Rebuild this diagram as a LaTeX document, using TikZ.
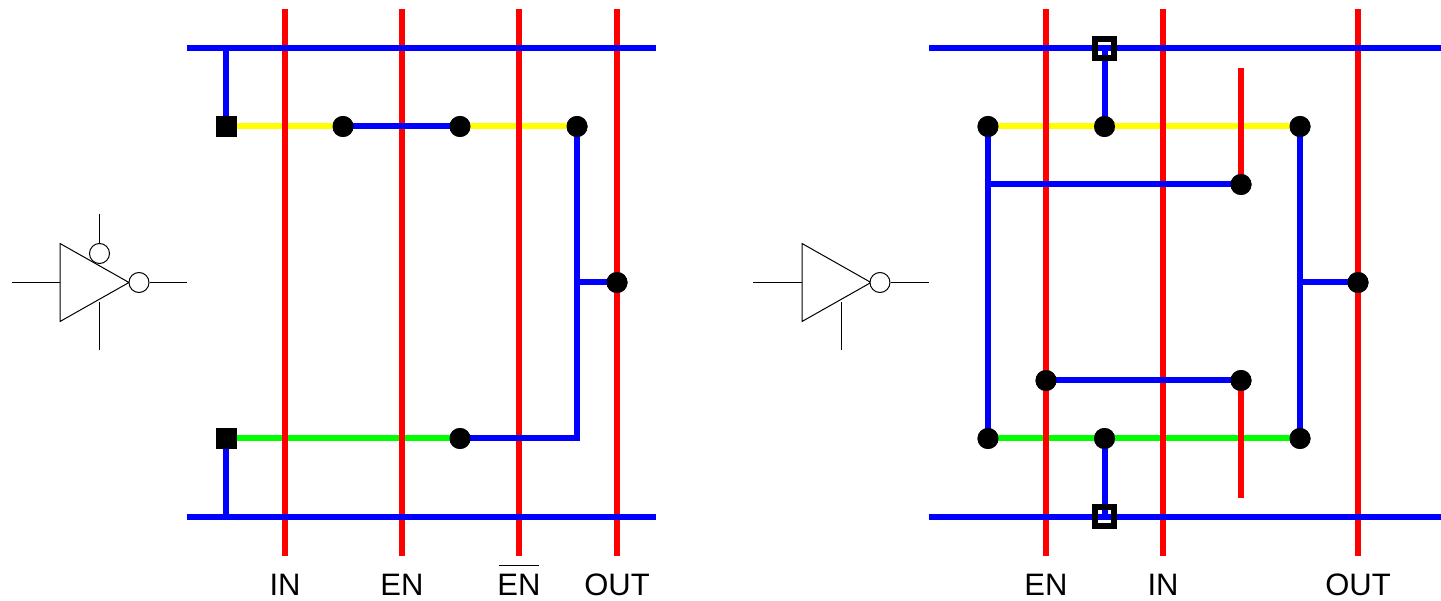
\documentclass[tikz,border=0pt]{standalone}
\usepackage{fontspec}
\setmainfont{Liberation Sans}
\definecolor{wblue}{RGB}{0,0,255}
\definecolor{wred}{RGB}{255,0,0}
\definecolor{wyel}{RGB}{255,255,0}
\definecolor{wgrn}{RGB}{0,255,0}
\tikzset{
  metal/.style={draw=wblue,line width=6pt},
  poly/.style={draw=wred,line width=6pt},
  pdiff/.style={draw=wyel,line width=6pt},
  ndiff/.style={draw=wgrn,line width=6pt},
  thin wire/.style={draw=black,line width=1pt},
  dot/.style={circle,fill=black,inner sep=0pt,minimum size=21pt},
  tap/.style={rectangle,fill=black,inner sep=0pt,minimum size=21pt},
  via/.style={rectangle,draw=black,line width=6pt,fill=none,inner sep=0pt,outer sep=0pt,minimum size=18.8pt},
  bubble/.style={circle,draw=black,line width=1pt,fill=white,inner sep=0pt,minimum size=20pt},
  lab/.style={font=\fontsize{31}{31}\selectfont,anchor=base,inner sep=0pt},
  tri/.style={draw=black,line width=1pt,line join=miter}
}
\begin{document}
\begin{tikzpicture}[x=1pt,y=-1pt]
\useasboundingbox (0,0) rectangle (1441,601);
\begin{scope}[yshift=-0.5pt]
\foreach \n/\x in {a/285,b/402,c/519,d/617,e/1046,f/1163,g/1358}{
  \coordinate (\n t) at (\x,9);
  \coordinate (\n b) at (\x,555);
}
\coordinate (vddL) at (187,48);  \coordinate (vddLe) at (656,48);
\coordinate (gndL) at (187,516); \coordinate (gndLe) at (656,516);
\coordinate (vddR) at (929,48);  \coordinate (vddRe) at (1441,48);
\coordinate (gndR) at (929,516); \coordinate (gndRe) at (1441,516);
\coordinate (vddLt) at (226,48); \coordinate (gndLt) at (226,516);
\coordinate (out1) at (577,282);
\coordinate (out2) at (1300,282);
\coordinate (ent) at (988,184);
\coordinate (pt1) at (1241,68);
\coordinate (pt2) at (1241,497);
% nodes
\node[tap] (s1) at (226,126) {};
\node[tap] (s2) at (226,438) {};
\node[dot] (l1) at (343,126) {};
\node[dot] (l2) at (460,126) {};
\node[dot] (l3) at (577,126) {};
\node[dot] (l4) at (460,438) {};
\node[dot] (l5) at (617,282) {};
\coordinate (corner) at (577,438);
\node[dot] (r1) at (988,126) {};
\node[dot] (r2) at (1104.5,126) {};
\node[dot] (r3) at (1300,126) {};
\node[dot] (r4) at (988,438) {};
\node[dot] (r5) at (1104.5,438) {};
\node[dot] (r6) at (1300,438) {};
\node[dot] (r7) at (1241,184) {};
\node[dot] (r8) at (1241,380) {};
\node[dot] (r9) at (1046,380) {};
\node[dot] (r10) at (1358,282) {};
\coordinate (v1) at (1104.5,48);
\coordinate (v2) at (1104.5,516);
% diffusion
\draw[pdiff] (s1.center) -- (l3.center);
\draw[ndiff] (s2.center) -- (l4.center);
\draw[pdiff] (r1.center) -- (r3.center);
\draw[ndiff] (r4.center) -- (r6.center);
% poly
\foreach \n in {a,b,c,d,e,f,g}{ \draw[poly] (\n t) -- (\n b); }
\draw[poly] (pt1) -- (r7.center);
\draw[poly] (r8.center) -- (pt2);
% metal
\draw[metal] (vddL) -- (vddLe);
\draw[metal] (gndL) -- (gndLe);
\draw[metal] (vddR) -- (vddRe);
\draw[metal] (gndR) -- (gndRe);
\draw[metal] (vddLt) -- (s1.center);
\draw[metal] (gndLt) -- (s2.center);
\draw[metal] (l1.center) -- (l2.center);
\draw[metal,line join=miter] (l3.center) -- (corner) -- (l4.center);
\draw[metal] (out1) -- (l5.center);
\draw[metal] (r1.center) -- (r4.center);
\draw[metal] (r3.center) -- (r6.center);
\draw[metal] (ent) -- (r7.center);
\draw[metal] (r9.center) -- (r8.center);
\draw[metal] (out2) -- (r10.center);
\draw[metal] (v1) -- (r2.center);
\draw[metal] (r5.center) -- (v2);
% contacts on top of wires
\foreach \p in {l1,l2,l3,l4,l5,r1,r2,r3,r4,r5,r6,r7,r8,r9,r10}{
  \fill[black] (\p) circle[radius=10.5pt];
}
\fill[black] (216,116) rectangle (236.5,136.5);
\fill[black] (216,428) rectangle (236.5,448.5);
\node[via] (v1box) at (v1) {};
\node[via] (v2box) at (v2) {};
% left inverter
\coordinate (t1) at (60,243); \coordinate (t2) at (60,321); \coordinate (t3) at (129,282);
\draw[tri] (t1) -- (t2) -- (t3) -- cycle;
\node[bubble] (b1) at (139,282) {};
\node[bubble] (b2) at (99.5,253) {};
\coordinate (i1) at (12,282); \coordinate (i2) at (60,282);
\coordinate (o1) at (187,282);
\coordinate (c1) at (99.5,214);
\coordinate (c2) at (99.5,302); \coordinate (c3) at (99.5,350);
\draw[thin wire] (i1) -- (i2);
\draw[thin wire] (b1) -- (o1);
\draw[thin wire] (c1) -- (b2);
\draw[thin wire] (c2) -- (c3);
% right inverter
\coordinate (u1) at (802,243); \coordinate (u2) at (802,321); \coordinate (u3) at (871,282);
\draw[tri] (u1) -- (u2) -- (u3) -- cycle;
\node[bubble] (b3) at (880,282) {};
\coordinate (i3) at (753,282); \coordinate (i4) at (802,282);
\coordinate (o2) at (929,282);
\coordinate (c4) at (841,302); \coordinate (c5) at (841,350);
\draw[thin wire] (i3) -- (i4);
\draw[thin wire] (b3) -- (o2);
\draw[thin wire] (c4) -- (c5);
\end{scope}
% labels
\node[lab] (n1) at (285,595) {IN};
\node[lab] (n2) at (402,595) {EN};
\node[lab] (n3) at (519,595) {EN};
\draw[black,line width=1pt] (498.5,565.5) -- (539,565.5);
\node[lab] (n4) at (617,595) {OUT};
\node[lab] (n5) at (1046,595) {EN};
\node[lab] (n6) at (1163,595) {IN};
\node[lab] (n7) at (1358,595) {OUT};
\end{tikzpicture}
\end{document}
